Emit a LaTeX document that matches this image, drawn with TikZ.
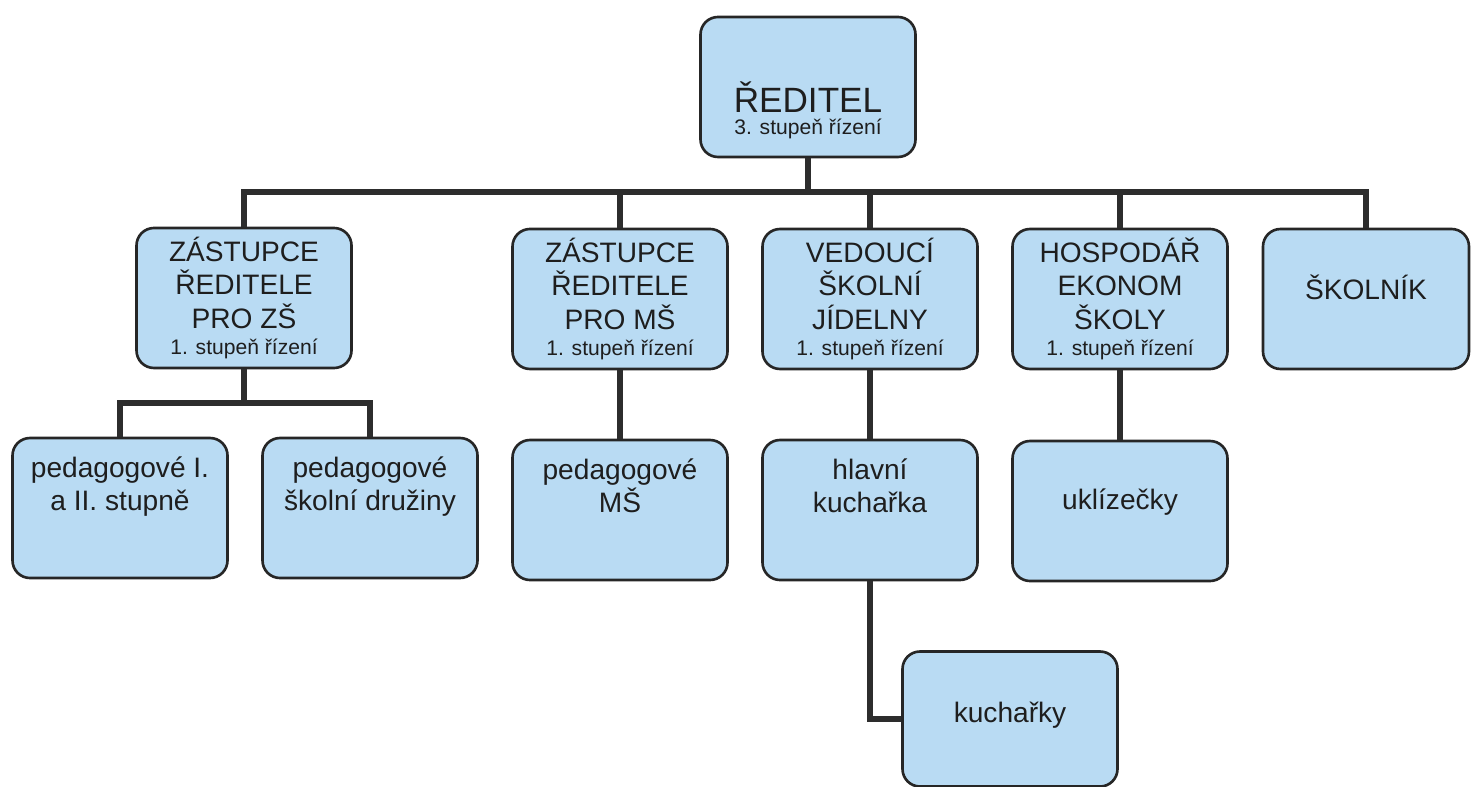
\documentclass[tikz,border=0pt]{standalone}
\usepackage{fontspec}
\setmainfont{Liberation Sans}
\usepackage{tikz}
\usepackage{xcolor}
\usetikzlibrary{positioning}
\definecolor{boxfill}{RGB}{185,219,243}
\definecolor{boxline}{RGB}{38,38,38}
\definecolor{linecol}{RGB}{45,45,45}
\definecolor{textcol}{RGB}{30,30,30}
\newcommand\stupen[1]{{\fontsize{12}{14}\selectfont #1}}
\newcommand\dnpad[1]{\rule[-#1]{0pt}{#1}}

\begin{document}
\begin{tikzpicture}[
box/.style={draw=boxline,fill=boxfill,rounded corners=0.35cm,line width=1.5pt,minimum width=4.3cm,minimum height=2.8cm,align=center,text=textcol,font=\fontsize{16}{19}\selectfont},
conn/.style={draw=linecol,line width=3.2pt}]
\useasboundingbox (0,0) rectangle (29.42,-15.74);
\node[box,font=\fontsize{20}{24}\selectfont](red) at (16.16,-1.74){\rule{0pt}{44pt}ŘEDITEL\\[-11pt]\stupen{3. stupeň řízení}};
\node[box](zs) at (4.88,-5.96){ZÁSTUPCE\\ŘEDITELE\\PRO ZŠ\\[-4pt]\stupen{1. stupeň řízení}};
\node[box](ms) at (12.40,-5.98){ZÁSTUPCE\\ŘEDITELE\\PRO MŠ\\[-4pt]\stupen{1. stupeň řízení}};
\node[box](jid) at (17.40,-5.98){VEDOUCÍ\\ŠKOLNÍ\\JÍDELNY\\[-4pt]\stupen{1. stupeň řízení}};
\node[box](hosp) at (22.40,-5.98){HOSPODÁŘ\\EKONOM\\ŠKOLY\\[-4pt]\stupen{1. stupeň řízení}};
\node[box,minimum width=4.12cm](skol) at (27.32,-5.98){ŠKOLNÍK\dnpad{13pt}};
\node[box](pedi) at (2.40,-10.16){pedagogové I.\\a II. stupně\dnpad{28pt}};
\node[box](pedsd) at (7.40,-10.16){pedagogové\\školní družiny\dnpad{28pt}};
\node[box](pedms) at (12.40,-10.20){pedagogové\\MŠ\dnpad{28pt}};
\node[box](hlav) at (17.40,-10.20){hlavní\\kuchařka\dnpad{28pt}};
\node[box](ukliz) at (22.40,-10.22){uklízečky\dnpad{13pt}};
\node[box,minimum height=2.7cm](kuch) at (20.20,-14.38){kuchařky\dnpad{8pt}};
\coordinate (bus) at (0,-3.84);
\coordinate (sub) at (0,-8.06);
\draw[conn](red.south)--(red.south|-bus);
\draw[conn](zs.north)|-(bus-|skol.north)--(skol.north);
\draw[conn](ms.north)--(ms.north|-bus);
\draw[conn](jid.north)--(jid.north|-bus);
\draw[conn](hosp.north)--(hosp.north|-bus);
\draw[conn](zs.south)--(zs.south|-sub);
\draw[conn](pedi.north)|-(sub-|pedsd.north)--(pedsd.north);
\draw[conn](ms.south)--(pedms.north);
\draw[conn](jid.south)--(hlav.north);
\draw[conn](hosp.south)--(ukliz.north);
\draw[conn](hlav.south)|-(kuch.west);
\end{tikzpicture}
\end{document}
